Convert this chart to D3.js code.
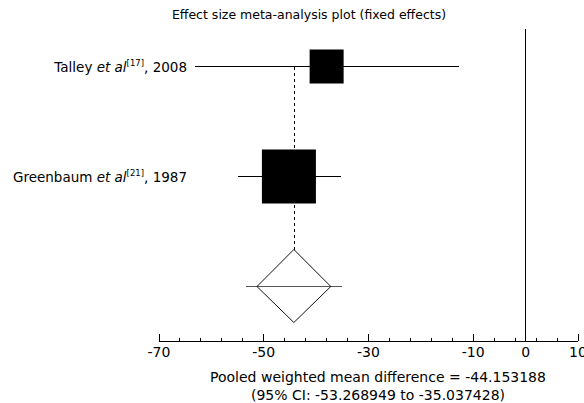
<!DOCTYPE html>
<html><head><meta charset="utf-8">
<script src="https://cdn.jsdelivr.net/npm/d3@7"></script>
<style>body{margin:0;background:#fff}svg{display:block}text{font-family:"DejaVu Sans",sans-serif;fill:#000}</style>
</head><body>
<script>
const studyAuthors = ["Talley", "Greenbaum"];
const studyRefs = ["17", "21"];
const studyYears = ["2008", "1987"];
const estimates = [-37.9, -45.1];
const ciLow = [-63.1, -54.9];
const ciHigh = [-12.7, -35.2];
const weights = [28.4, 71.6];
const pooled = -44.153188;
const pooledLow = -53.268949;
const pooledHigh = -35.037428;
const diamondLow = -51.2;
const diamondHigh = -37.1;
const majorTicks = [-70, -50, -30, -10, 0, 10];
const minorTicks = d3.range(-70, 10.1, 4);
const title = "Effect size meta-analysis plot (fixed effects)";

const W = 584, H = 403;
const svg = d3.select("body").append("svg").attr("width", W).attr("height", H);
const x = d3.scaleLinear().domain([-70, 10]).range([158.5, 577.5]);
const y = d3.scalePoint().domain([0, 1, 2]).range([66.5, 286.5]);
const axisY = 340.5;
const box = d3.scaleSqrt().domain([0, 71.6]).range([0, 54]);

svg.append("text").attr("x", 309).attr("y", 19).attr("text-anchor", "middle")
  .attr("font-size", 12.5).text(title);

// zero line
svg.append("line").attr("x1", x(0)).attr("x2", x(0)).attr("y1", 29).attr("y2", axisY)
  .attr("stroke", "#000").attr("stroke-width", 1).attr("shape-rendering", "crispEdges");

// dashed pooled line
svg.append("line").attr("x1", Math.round(x(pooled)) + 0.5).attr("x2", Math.round(x(pooled)) + 0.5)
  .attr("y1", y(0)).attr("y2", y(2) - 37)
  .attr("stroke", "#000").attr("stroke-dasharray", "3,3").attr("stroke-width", 1)
  .attr("shape-rendering", "crispEdges");

const rows = svg.selectAll("g.study").data(estimates.map((e, i) => i)).join("g").attr("class", "study");
rows.append("line").attr("x1", i => x(ciLow[i])).attr("x2", i => x(ciHigh[i]))
  .attr("y1", i => y(i)).attr("y2", i => y(i)).attr("stroke", "#000").attr("stroke-width", 1)
  .attr("shape-rendering", "crispEdges");
rows.append("rect")
  .attr("x", i => x(estimates[i]) - box(weights[i]) / 2)
  .attr("y", i => y(i) - box(weights[i]) / 2)
  .attr("width", i => box(weights[i])).attr("height", i => box(weights[i]))
  .attr("fill", "#000");
const lbl = rows.append("text").attr("x", 187).attr("y", i => y(i) + 5)
  .attr("text-anchor", "end").attr("font-size", 13.5);
lbl.append("tspan").text(i => studyAuthors[i] + " ");
lbl.append("tspan").attr("font-style", "italic").text("et al");
lbl.append("tspan").attr("font-size", 8.5).attr("dy", -5.5).text(i => "[" + studyRefs[i] + "]");
lbl.append("tspan").attr("dy", 5.5).text(i => ", " + studyYears[i]);

// pooled diamond
const yd = y(2);
svg.append("line").attr("x1", x(pooledLow)).attr("x2", x(pooledHigh)).attr("y1", yd).attr("y2", yd)
  .attr("stroke", "#555").attr("stroke-width", 1).attr("shape-rendering", "crispEdges");
svg.append("path")
  .attr("d", `M${x(pooled)},${yd - 37}L${x(diamondHigh)},${yd}L${x(pooled)},${yd + 36}L${x(diamondLow)},${yd}Z`)
  .attr("fill", "none").attr("stroke", "#111").attr("stroke-width", 1);

// axis
const gMinor = svg.append("g").attr("transform", `translate(0,${axisY})`)
  .call(d3.axisBottom(x).tickValues(minorTicks).tickSize(-3).tickFormat("").tickSizeOuter(0));
const gMajor = svg.append("g").attr("transform", `translate(0,${axisY})`)
  .call(d3.axisBottom(x).tickValues(majorTicks).tickSize(-7).tickFormat(d => String(d)).tickSizeOuter(0));
svg.selectAll(".domain").attr("stroke", "#000").attr("stroke-width", 1).attr("shape-rendering", "crispEdges");
svg.selectAll(".tick line").attr("stroke", "#000").attr("shape-rendering", "crispEdges");
gMajor.selectAll("text").attr("font-size", 14).attr("font-family", "DejaVu Sans").attr("fill", "#000")
  .attr("dy", "0.35em").attr("y", 12);
gMajor.select(".domain").remove();

svg.append("text").attr("x", 378).attr("y", 382).attr("text-anchor", "middle").attr("font-size", 14)
  .text("Pooled weighted mean difference = " + pooled.toFixed(6));
svg.append("text").attr("x", 378).attr("y", 400).attr("text-anchor", "middle").attr("font-size", 14)
  .text("(95% CI: " + pooledLow.toFixed(6) + " to " + pooledHigh.toFixed(6) + ")");
</script>
</body></html>
